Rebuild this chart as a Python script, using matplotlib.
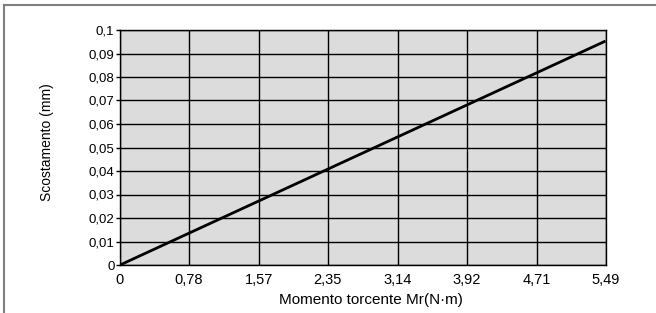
import numpy as np
import matplotlib.pyplot as plt
from matplotlib.lines import Line2D

plt.rcParams['font.family'] = ['Liberation Sans', 'DejaVu Sans']

# data
torque = [0, 5.49]
offset = [0, 0.0953]
x_ticks = [0, 0.78, 1.57, 2.35, 3.14, 3.92, 4.71, 5.49]
x_labels = ['0', '0,78', '1,57', '2,35', '3,14', '3,92', '4,71', '5,49']
y_ticks = [0, 0.01, 0.02, 0.03, 0.04, 0.05, 0.06, 0.07, 0.08, 0.09, 0.1]
y_labels = ['0', '0,01', '0,02', '0,03', '0,04', '0,05', '0,06', '0,07', '0,08', '0,09', '0,1']

W, H = 656, 313
fig = plt.figure(figsize=(W / 100, H / 100), dpi=100)
ax = fig.add_axes([120 / W, 1 - 265 / H, (605.5 - 120) / W, (265 - 30) / H])
ax.set_facecolor('#dcdcdc')

ax.plot(torque, offset, color='black', lw=2, solid_capstyle='butt', zorder=3)

ax.set_xlim(0, 5.49)
ax.set_ylim(0, 0.1)
ax.set_xticks(x_ticks)
ax.set_xticklabels(x_labels, fontsize=10.5)
ax.set_yticks(y_ticks)
ax.set_yticklabels(y_labels, fontsize=9.5)
ax.tick_params(axis='x', length=0, pad=6)
ax.tick_params(axis='y', length=3, width=1, pad=1)
ax.grid(True, color='black', lw=1)
ax.set_axisbelow(True)
for s in ax.spines.values():
    s.set_color('black')
    s.set_linewidth(1)

# axis titles placed where the reference has them
ax.set_xlabel('Momento torcente Mr(N·m)', fontsize=11)
ax.xaxis.set_label_coords((370.5 - 120) / 485.5, -(300 - 265) / 235)
ax.xaxis.label.set_va('center')
ax.set_ylabel('Scostamento (mm)', fontsize=10)
ax.yaxis.set_label_coords(-(120 - 47.5) / 485.5, (265 - 142) / 235)
ax.yaxis.label.set_va('center')

# gray frame on top and left
fig.add_artist(Line2D([4 / W, 4 / W], [0, 1 - 5 / H], color='#7f7f7f', lw=1.5))
fig.add_artist(Line2D([4 / W, 655 / W], [1 - 5 / H, 1 - 5 / H], color='#7f7f7f', lw=1.5))

fig.savefig('out.png', dpi=100)
